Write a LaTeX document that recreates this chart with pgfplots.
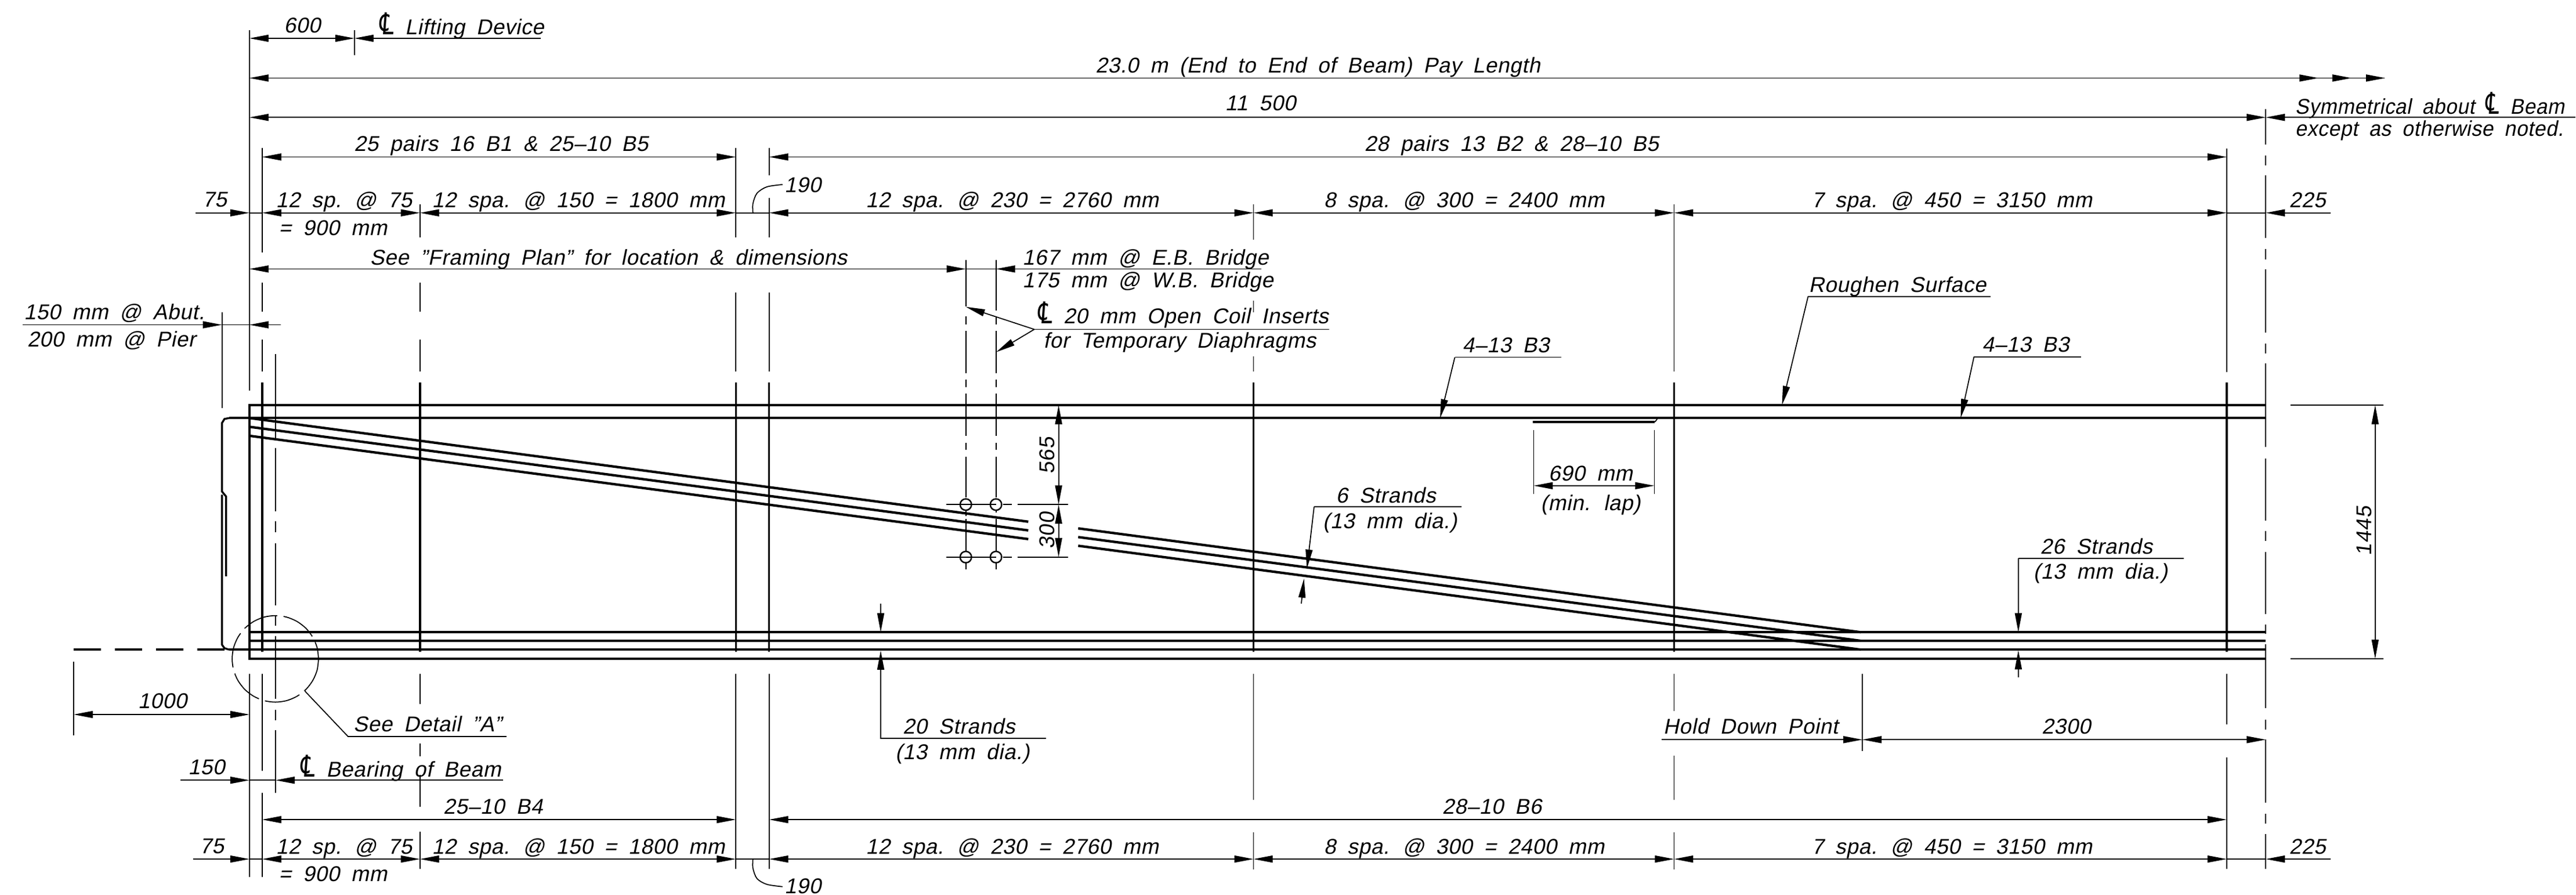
\documentclass[border=0pt]{standalone}
\usepackage{fontspec}
\setmainfont{Liberation Sans}[FakeSlant=0.2,WordSpace=1.8,LetterSpace=2]
\newfontfamily\symf{DejaVu Sans}[FakeSlant=0.1]
\newfontfamily\widef{Liberation Sans}[LetterSpace=3,FakeSlant=0.12]
\usepackage{graphicx}
\usepackage{pgfplots}
\pgfplotsset{compat=1.18}
\usetikzlibrary{arrows.meta}

\newcommand{\cln}{\scalebox{1.05}[1.4]{\symf ℄}}
% all coordinates are reference pixels, y downwards
\pgfplotsset{
  thn/.style={black,line width=0.5pt},
  med/.style={black,line width=0.95pt},
  thk/.style={black,line width=1.2pt},
  tipe/.style={-{Triangle[length=0.33cm,width=0.12cm]}},
  tipb/.style={{Triangle[length=0.33cm,width=0.12cm]}-{Triangle[length=0.33cm,width=0.12cm]}},
}
\newcommand{\seg}[2]{\addplot[thn] coordinates {(#1) (#2)};}
\newcommand{\mseg}[2]{\addplot[med] coordinates {(#1) (#2)};}
\newcommand{\tseg}[2]{\addplot[thk] coordinates {(#1) (#2)};}
\newcommand{\vsg}[3]{\addplot[thn] coordinates {(#1,#2) (#1,#3)};}
\newcommand{\arE}[2]{\addplot[thn,tipe] coordinates {(#1) (#2)};}
\newcommand{\arB}[2]{\addplot[thn,tipb] coordinates {(#1) (#2)};}
\newcommand{\txc}[3]{\node[anchor=base,yshift=-0.13cm,inner sep=0pt,font=\fontsize{10.5}{12}\selectfont] at (axis cs:#1,#2) {#3};}
\newcommand{\txl}[3]{\node[anchor=base west,yshift=-0.13cm,inner sep=0pt,font=\fontsize{10.5}{12}\selectfont] at (axis cs:#1,#2) {#3};}
\newcommand{\txr}[3]{\node[anchor=base,rotate=90,inner sep=0pt,font=\fontsize{10.5}{12}\selectfont\widef] at (axis cs:#1,#2) {#3};}

\begin{document}
\begin{tikzpicture}
\begin{axis}[
  scale only axis, width=44.4cm, height=15.42cm,
  xmin=0, xmax=4440, ymin=0, ymax=1542, y dir=reverse,
  hide axis, clip=false,
]
\path (rel axis cs:0,0) rectangle (rel axis cs:1,1);

% beam outline and strands
\addplot[thk] coordinates {(3906,698) (430,698) (430,1135.3) (3906,1135.3)};
\tseg{395,720.4}{3906,720.4}
\tseg{430,1089.5}{3906,1089.5}
\tseg{430,1104.3}{3906,1104.3}
\tseg{395,1119.5}{3906,1119.5}
\addplot[med] coordinates {(395,720.4) (387,722) (382.7,729) (382.7,847) (389.7,855.5) (389.7,993)};
\addplot[med] coordinates {(382.7,852.6) (382.7,1111) (387,1117) (395,1119.5)};
\addplot[black,line width=1.2pt,dash pattern=on 0.47cm off 0.24cm] coordinates {(127,1119.5) (395,1119.5)};
% draped strands, broken at the inserts
\tseg{430,720.4}{1772.7,899}
\tseg{430,735.5}{1772.7,914}
\tseg{430,751}{1772.7,929}
\tseg{1858.7,910.5}{3208,1089.5}
\tseg{1858.7,925.5}{3208,1104.3}
\tseg{1858.7,940.5}{3208,1119.5}
\tseg{2642,727.2}{2853,727.2}
\seg{2853,727.2}{2858,720.4}

% stirrups
\mseg{452,659}{452,1123.5}
\mseg{724,659}{724,1123.5}
\mseg{1268.5,659}{1268.5,1123.5}
\mseg{1326,659}{1326,1123.5}
\mseg{2161,659}{2161,1123.5}
\mseg{2886,659}{2886,1123.5}
\mseg{3838.7,659}{3838.7,1123.5}

% extension lines
\vsg{430}{52}{673} \vsg{430}{1161}{1511}
\vsg{452}{255}{435.5} \vsg{452}{487}{537} \vsg{452}{585}{640}
\vsg{452}{1161}{1328} \vsg{452}{1366}{1511}
\vsg{475}{610}{758} \vsg{475}{772}{881} \vsg{475}{898.5}{917} \vsg{475}{936}{1043}
\vsg{475}{1060}{1078} \vsg{475}{1096}{1204} \vsg{475}{1223}{1241} \vsg{475}{1258}{1366}
\vsg{724}{352}{409} \vsg{724}{487}{537} \vsg{724}{585}{640}
\vsg{724}{1161}{1213} \vsg{724}{1281}{1303} \vsg{724}{1335}{1390} \vsg{724}{1433}{1497}
\vsg{1268.5}{255}{409} \vsg{1268.5}{504}{640} \vsg{1268.5}{1161}{1497}
\vsg{1326}{255}{302} \vsg{1326}{341}{409} \vsg{1326}{504}{640} \vsg{1326}{1161}{1497}
\vsg{2161}{352}{413} \vsg{2161}{518}{538} \vsg{2161}{614}{640}
\vsg{2161}{1161}{1378} \vsg{2161}{1434}{1498}
\vsg{2886}{352}{640} \vsg{2886}{1161}{1225} \vsg{2886}{1302}{1378} \vsg{2886}{1434}{1498}
\vsg{3838.7}{256}{641} \vsg{3838.7}{1161}{1248.5} \vsg{3838.7}{1305}{1497}
\vsg{3210.7}{1161}{1294}
\vsg{382.7}{538.6}{703.6}
\vsg{127}{1140}{1267}
\vsg{611}{52}{95}
% centre line of the span
\vsg{3906}{188}{249} \vsg{3906}{267.6}{285} \vsg{3906}{302}{410} \vsg{3906}{428.7}{447}
\vsg{3906}{464}{573} \vsg{3906}{592}{609} \vsg{3906}{626}{770} \vsg{3906}{790}{897}
\vsg{3906}{915}{932.5} \vsg{3906}{950.7}{1058} \vsg{3906}{1076}{1092.5} \vsg{3906}{1110}{1220.5}
\vsg{3906}{1240}{1257} \vsg{3906}{1274.6}{1383} \vsg{3906}{1402.6}{1419} \vsg{3906}{1437}{1497}
% insert lines
\vsg{1665}{448.5}{528} \vsg{1665}{545.4}{558.7} \vsg{1665}{570.6}{642.7} \vsg{1665}{653.8}{666.8}
\vsg{1665}{678.6}{751} \vsg{1665}{763}{775} \vsg{1665}{787}{857.3} \vsg{1665}{879.5}{889} \vsg{1665}{894}{951.6} \vsg{1665}{969}{981}
\vsg{1717}{448.5}{535.4} \vsg{1717}{546.5}{558.7} \vsg{1717}{570.6}{642.7} \vsg{1717}{653.8}{666.8}
\vsg{1717}{678.6}{751} \vsg{1717}{763}{775} \vsg{1717}{787}{857.3} \vsg{1717}{879.5}{883} \vsg{1717}{894}{951.6} \vsg{1717}{969}{981}
\seg{1631.7,869.5}{1717,869.5} \seg{1729,869.5}{1744,869.5} \seg{1754,869.5}{1841,869.5}
\seg{1631.7,960}{1717,960} \seg{1729,960}{1744,960} \seg{1754,960}{1841,960}
\addplot[only marks,mark=o,mark size=2.8pt,mark options={black,line width=0.7pt,fill=none}]
  coordinates {(1665,869.5) (1717,869.5) (1665,960) (1717,960)};
\seg{3949,698}{4109,698} \seg{3949,1135.3}{4109,1135.3}
\vsg{2644}{741}{851} \vsg{2852}{741}{851}

% dimension rows: top
\arB{430,66}{611,66}
\arE{932,66}{611,66}
\txc{521}{44}{600}
\txl{653}{47}{\cln\ Lifting Device}
\arB{430,134.5}{4112,134.5}
\arE{3950,134.5}{3997,134.5}
\arE{4010,134.5}{4054,134.5}
\txc{2272}{113}{23.0 m (End to End of Beam) Pay Length}
\arB{430,202.3}{3906,202.3}
\arE{4440,202.3}{3906,202.3}
\txc{2173}{178}{11 500}
\txl{3956}{184}{\scalebox{0.95}[1]{Symmetrical about \cln\ Beam}}
\txl{3956}{222}{\scalebox{0.96}[1]{except as otherwise noted.}}
\arB{452,270.5}{1268.5,270.5}
\arB{1326,270.5}{3838.7,270.5}
\txc{864}{248}{25 pairs 16 B1 \& 25–10 B5}
\txc{2606}{248}{28 pairs 13 B2 \& 28–10 B5}
% spacing row, top
\arE{336.7,366.8}{430,366.8}
\seg{430,366.8}{452,366.8}
\arB{452,366.8}{724,366.8}
\arB{724,366.8}{1268.5,366.8}
\seg{1268.5,366.8}{1326,366.8}
\arB{1326,366.8}{2161,366.8}
\arB{2161,366.8}{2886,366.8}
\arB{2886,366.8}{3838.7,366.8}
\seg{3838.7,366.8}{3906,366.8}
\arE{4018,366.8}{3906,366.8}
\txc{370}{344}{75}
\txc{593}{345}{12 sp. @ 75}
\txc{574}{393}{= 900 mm}
\txc{997}{345}{12 spa. @ 150 = 1800 mm}
\txc{1745}{345}{12 spa. @ 230 = 2760 mm}
\txc{2524}{345}{8 spa. @ 300 = 2400 mm}
\txc{3365}{345}{7 spa. @ 450 = 3150 mm}
\txc{3978}{345}{225}
\txc{1384}{319}{190}
\addplot[thn,smooth] coordinates {(1298,366.8) (1298,351) (1305,333) (1322,322) (1349,318)};
% framing row
\arB{430,463.5}{1665,463.5}
\arE{2174.5,463.5}{1717,463.5}
\seg{1665,463.5}{1717,463.5}
\txc{1049}{444}{See "Framing Plan" for location \& dimensions}
\txl{1762}{444}{167 mm @ E.B. Bridge}
\txl{1762}{483}{175 mm @ W.B. Bridge}
\arE{1783,567.6}{1665,528.8}
\arE{1783,567.6}{1717.3,606.8}
\seg{1783,567.6}{2291,567.6}
\txl{1788}{545}{\cln\ 20 mm Open Coil Inserts}
\txl{1798}{587}{for Temporary Diaphragms}
% abutment
\arE{39,559.7}{382.7,559.7}
\seg{382.7,559.7}{430,559.7}
\arE{484,559.7}{430,559.7}
\txc{197}{538}{150 mm @ Abut.}
\txc{192}{585}{200 mm @ Pier}

% notes on the beam
\seg{2692,615.7}{2508,615.7}
\arE{2508,615.7}{2482.5,720.8}
\txc{2596}{595}{4–13 B3}
\seg{3587.6,615}{3403,615}
\arE{3403,615}{3380,720.4}
\txc{3492}{594}{4–13 B3}
\seg{3431.7,511}{3117,511}
\arE{3117,511}{3072,698}
\txc{3271}{491}{Roughen Surface}
\arB{2644,837}{2852,837}
\txc{2742}{816}{690 mm}
\txc{2742}{867}{(min. lap)}
\arB{1825,698}{1825,869.5}
\arB{1825,869.5}{1825,960}
\txr{1818}{785}{565}
\txr{1818}{914}{300}
\seg{2519,873.5}{2265.4,873.5}
\arE{2265.4,873.5}{2253,980}
\arE{2243.4,1040}{2248,997}
\txc{2389}{854}{6 Strands}
\txc{2396}{898}{(13 mm dia.)}
\seg{3764.6,962.5}{3479.5,962.5}
\arE{3479.5,962.5}{3479.5,1089.5}
\arE{3479.5,1167}{3479.5,1120.5}
\txc{3614}{942}{26 Strands}
\txc{3621}{985}{(13 mm dia.)}
\arB{4094.6,698}{4094.6,1135.3}
\txr{4088}{915}{1445}
\arE{1518.3,1040.4}{1518.3,1089.5}
\addplot[thn,{Triangle[length=0.33cm,width=0.12cm]}-] coordinates {(1518.3,1121) (1518.3,1272.4) (1803.3,1272.4)};
\txc{1653}{1252}{20 Strands}
\txc{1659}{1296}{(13 mm dia.)}

% detail circle
\addplot[thn,smooth,dash pattern=on 0.62cm off 0.11cm] coordinates {
  (549.2,1135.4) (546.7,1154.7) (539.2,1172.65) (527.4,1188.1) (511.95,1199.9) (494,1207.4)
  (474.7,1209.9) (455.4,1207.4) (437.45,1199.9) (422,1188.1) (410.2,1172.65) (402.7,1154.7)
  (400.2,1135.4) (402.7,1116.1) (410.2,1098.15) (422,1082.7) (437.45,1070.9) (455.4,1063.4)
  (474.7,1060.9) (494,1063.4) (511.95,1070.9) (527.4,1082.7) (539.2,1098.15) (546.7,1116.1)
  (549.2,1135.4)};
\addplot[thn] coordinates {(525.7,1191) (600,1269.2) (873.4,1269.2)};
\txc{737}{1248}{See Detail "A"}

% dimension rows: bottom
\arB{127,1231.3}{430,1231.3}
\txc{280}{1208}{1000}
\arE{311,1344.5}{430,1344.5}
\seg{430,1344.5}{475,1344.5}
\arE{867,1344.5}{475,1344.5}
\txc{356}{1322}{150}
\txl{517}{1326}{\cln\ Bearing of Beam}
\arE{2865,1274.6}{3210.7,1274.6}
\arB{3210.7,1274.6}{3906,1274.6}
\txc{3018}{1252}{Hold Down Point}
\txc{3562}{1252}{2300}
\arB{452,1412.4}{1268.5,1412.4}
\arB{1326,1412.4}{3838.7,1412.4}
\txc{850}{1390}{25–10 B4}
\txc{2572}{1390}{28–10 B6}
\arE{333,1480.4}{430,1480.4}
\seg{430,1480.4}{452,1480.4}
\arB{452,1480.4}{724,1480.4}
\arB{724,1480.4}{1268.5,1480.4}
\seg{1268.5,1480.4}{1326,1480.4}
\arB{1326,1480.4}{2161,1480.4}
\arB{2161,1480.4}{2886,1480.4}
\arB{2886,1480.4}{3838.7,1480.4}
\seg{3838.7,1480.4}{3906,1480.4}
\arE{4018,1480.4}{3906,1480.4}
\txc{365}{1458}{75}
\txc{593}{1459}{12 sp. @ 75}
\txc{574}{1506}{= 900 mm}
\txc{997}{1459}{12 spa. @ 150 = 1800 mm}
\txc{1745}{1459}{12 spa. @ 230 = 2760 mm}
\txc{2524}{1459}{8 spa. @ 300 = 2400 mm}
\txc{3365}{1459}{7 spa. @ 450 = 3150 mm}
\txc{3978}{1459}{225}
\txc{1384}{1527}{190}
\addplot[thn,smooth] coordinates {(1298,1480.4) (1298,1496) (1305,1514) (1322,1524) (1349,1528)};
\end{axis}
\end{tikzpicture}
\end{document}
